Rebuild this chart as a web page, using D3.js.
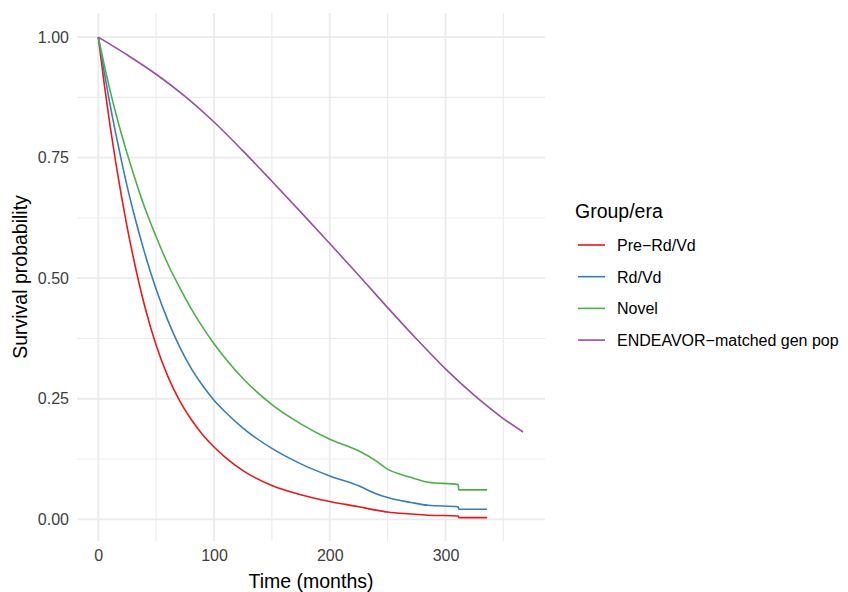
<!DOCTYPE html>
<html>
<head>
<meta charset="utf-8">
<script src="https://cdn.jsdelivr.net/npm/d3@7"></script>
<style>
body { margin: 0; background: #fff; }
text { font-family: "Liberation Sans", Arial, sans-serif; }
</style>
</head>
<body>
<svg id="chart" width="848" height="592"></svg>
<script>
// ---- data ----
const groups = ["Pre\u2212Rd/Vd", "Rd/Vd", "Novel", "ENDEAVOR\u2212matched gen pop"];
const groupColors = ["#E41A1C", "#377EB8", "#4DAF4A", "#984EA3"];

const kmMonths = [0, 5, 10, 15, 20, 25, 30, 40, 50, 60, 70, 80, 90, 100, 110, 125, 150, 175, 200, 225, 240, 250, 270, 285, 311, 311.5, 336];
const preRdVd = [1, 0.905, 0.819, 0.741, 0.670, 0.605, 0.546, 0.443, 0.361, 0.297, 0.247, 0.208, 0.176, 0.150, 0.128, 0.101, 0.070, 0.051, 0.037, 0.026, 0.019, 0.015, 0.011, 0.0085, 0.007, 0.0035, 0.0035];
const rdVd    = [1, 0.929, 0.862, 0.801, 0.744, 0.690, 0.641, 0.553, 0.477, 0.413, 0.359, 0.314, 0.278, 0.247, 0.222, 0.189, 0.147, 0.115, 0.090, 0.0695, 0.053, 0.045, 0.035, 0.029, 0.026, 0.021, 0.021];
const novel   = [1, 0.944, 0.891, 0.843, 0.799, 0.758, 0.719, 0.647, 0.586, 0.530, 0.482, 0.438, 0.399, 0.364, 0.333, 0.292, 0.238, 0.198, 0.166, 0.142, 0.121, 0.104, 0.087, 0.077, 0.072, 0.061, 0.061];

const genPopMonths = [0, 25, 50, 75, 100, 125, 150, 175, 200, 225, 250, 275, 300, 325, 350, 367];
const genPop       = [1, 0.963, 0.923, 0.877, 0.824, 0.764, 0.701, 0.637, 0.572, 0.506, 0.439, 0.374, 0.312, 0.257, 0.209, 0.181];

const xMajor = [0, 100, 200, 300];
const xMinor = [50, 150, 250, 350];
const yMajor = [0, 0.25, 0.5, 0.75, 1];
const yMinor = [0.125, 0.375, 0.625, 0.875];

const xTitle = "Time (months)";
const yTitle = "Survival probability";
const legendTitle = "Group/era";

// ---- layout ----
const svg = d3.select("#chart");
const panel = { l: 77, r: 545, t: 13, b: 541 };
const x = d3.scaleLinear().domain([-18.4, 386]).range([panel.l, panel.r]);
const y = d3.scaleLinear().domain([-0.045, 1.05]).range([panel.b, panel.t]);

const grid = svg.append("g");
grid.selectAll(".xmin").data(xMinor).join("line")
  .attr("x1", d => x(d)).attr("x2", d => x(d)).attr("y1", panel.t).attr("y2", panel.b)
  .attr("stroke", "#ebebeb").attr("stroke-width", 1.1);
grid.selectAll(".ymin").data(yMinor).join("line")
  .attr("y1", d => y(d)).attr("y2", d => y(d)).attr("x1", panel.l).attr("x2", panel.r)
  .attr("stroke", "#ebebeb").attr("stroke-width", 1.1);
grid.selectAll(".xmaj").data(xMajor).join("line")
  .attr("x1", d => x(d)).attr("x2", d => x(d)).attr("y1", panel.t).attr("y2", panel.b)
  .attr("stroke", "#ebebeb").attr("stroke-width", 1.8);
grid.selectAll(".ymaj").data(yMajor).join("line")
  .attr("y1", d => y(d)).attr("y2", d => y(d)).attr("x1", panel.l).attr("x2", panel.r)
  .attr("stroke", "#ebebeb").attr("stroke-width", 1.8);

// axes
const yAxis = svg.append("g").attr("transform", `translate(${panel.l},0)`)
  .call(d3.axisLeft(y).tickValues(yMajor).tickFormat(d3.format(".2f")).tickSize(0).tickPadding(8));
const xAxis = svg.append("g").attr("transform", `translate(0,${panel.b})`)
  .call(d3.axisBottom(x).tickValues(xMajor).tickFormat(d3.format("d")).tickSize(0).tickPadding(9));
[yAxis, xAxis].forEach(a => {
  a.select(".domain").remove();
  a.selectAll("text").attr("font-size", 16).attr("fill", "#3d3d3d")
    .attr("font-family", "'Liberation Sans', Arial, sans-serif");
});

// titles
svg.append("text").attr("x", (panel.l + panel.r) / 2).attr("y", 588)
  .attr("text-anchor", "middle").attr("font-size", 19.5).attr("fill", "#000").text(xTitle);
svg.append("text").attr("transform", `translate(27,${(panel.t + panel.b) / 2}) rotate(-90)`)
  .attr("text-anchor", "middle").attr("font-size", 19.5).attr("fill", "#000").text(yTitle);

// lines
const line = d3.line().x(d => x(d[0])).y(d => y(d[1])).curve(d3.curveMonotoneX);
const seriesData = [
  kmMonths.map((m, i) => [m, preRdVd[i]]),
  kmMonths.map((m, i) => [m, rdVd[i]]),
  kmMonths.map((m, i) => [m, novel[i]]),
  genPopMonths.map((m, i) => [m, genPop[i]])
];
svg.append("g").selectAll("path").data(seriesData).join("path")
  .attr("d", line).attr("fill", "none")
  .attr("stroke", (d, i) => groupColors[i]).attr("stroke-width", 1.6);

// legend
const leg = svg.append("g");
leg.append("text").attr("x", 575).attr("y", 218).attr("font-size", 19.5).attr("fill", "#000").text(legendTitle);
const items = leg.selectAll(".item").data(groups).join("g")
  .attr("transform", (d, i) => `translate(0,${245 + i * 31.7})`);
items.append("line").attr("x1", 578).attr("x2", 605).attr("y1", 0).attr("y2", 0)
  .attr("stroke", (d, i) => groupColors[i]).attr("stroke-width", 1.6);
items.append("text").attr("x", 617).attr("y", 5.8).attr("font-size", 16).attr("fill", "#000").text(d => d);
</script>
</body>
</html>
